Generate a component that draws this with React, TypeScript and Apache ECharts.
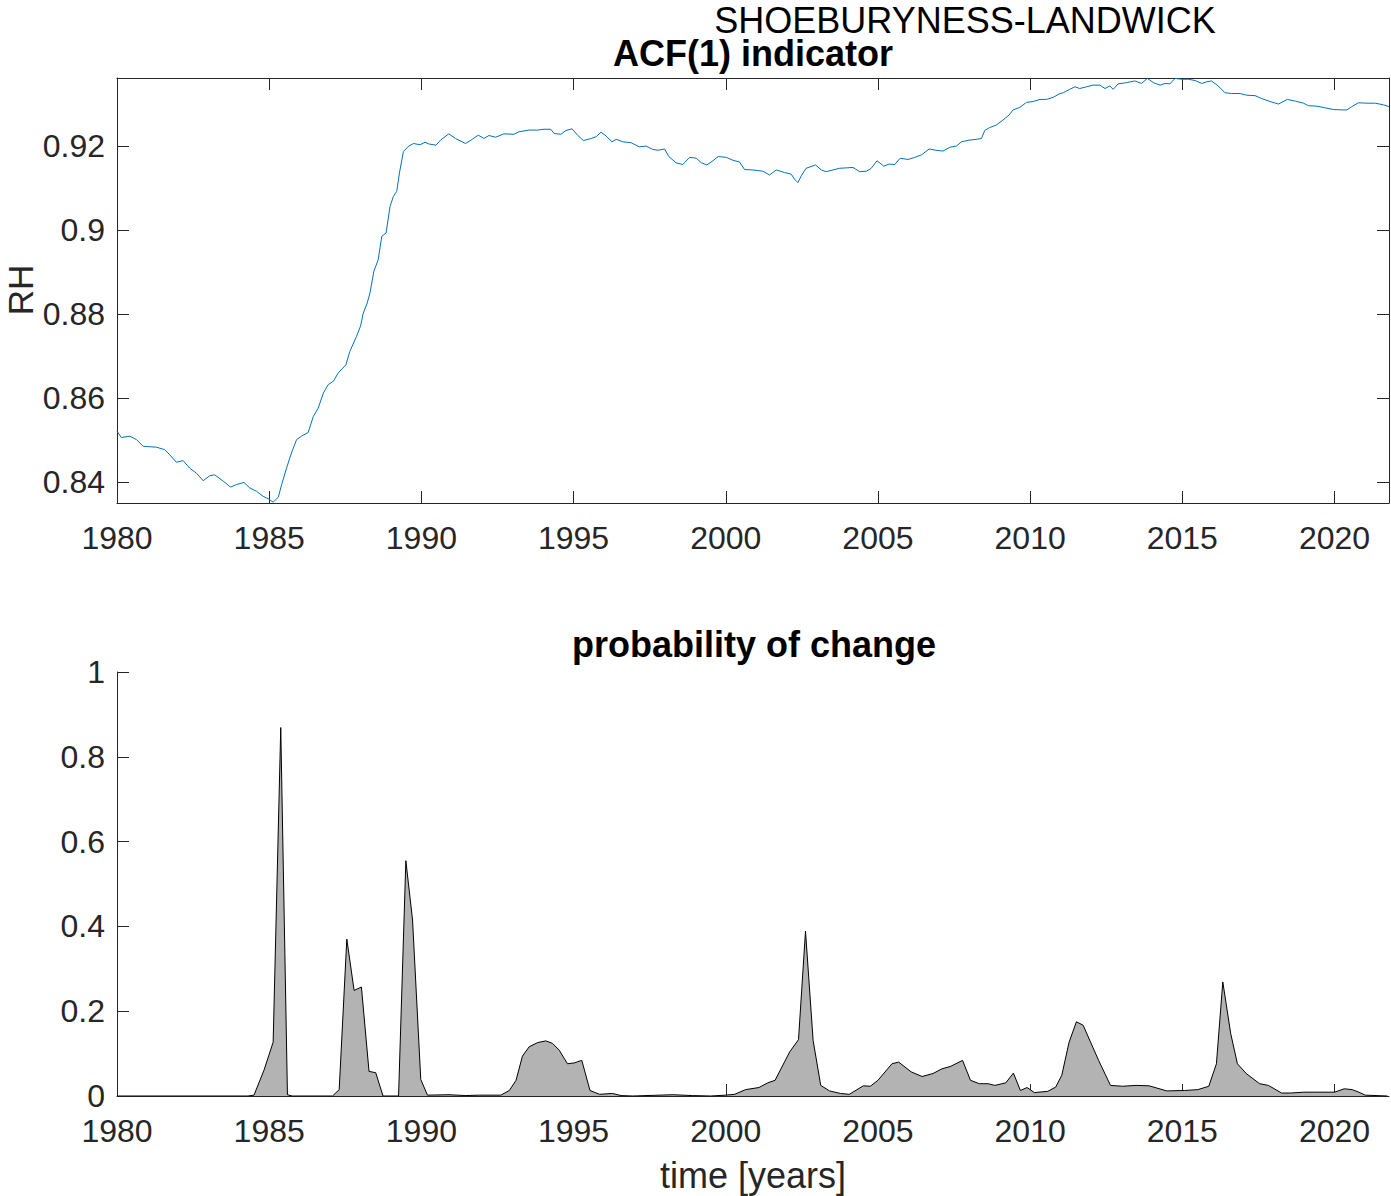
import React, { useEffect, useRef } from "react";
import * as echarts from "echarts";

// ---- ACF(1) indicator (top panel) ----
const acfYears = [
  1980.0, 1980.14, 1980.42, 1980.64, 1980.86, 1981.29, 1981.57, 1981.73, 1981.95, 1982.17,
  1982.39, 1982.61, 1982.83, 1983.05, 1983.21, 1983.49, 1983.73, 1983.93, 1984.17, 1984.36,
  1984.58, 1984.8, 1984.97, 1985.13, 1985.3, 1985.41, 1985.57, 1985.73, 1985.9, 1986.06,
  1986.28, 1986.45, 1986.61, 1986.78, 1986.94, 1987.11, 1987.27, 1987.52, 1987.65, 1987.87,
  1988.0, 1988.09, 1988.22, 1988.31, 1988.44, 1988.58, 1988.7, 1988.84, 1988.97, 1989.08,
  1989.19, 1989.28, 1989.41, 1989.57, 1989.74, 1989.96, 1990.12, 1990.24, 1990.48, 1990.63,
  1990.9, 1991.12, 1991.45, 1991.67, 1991.87, 1992.05, 1992.22, 1992.44, 1992.71, 1993.04,
  1993.21, 1993.54, 1993.81, 1994.03, 1994.25, 1994.36, 1994.58, 1994.75, 1994.95, 1995.13,
  1995.32, 1995.58, 1995.74, 1995.9, 1996.07, 1996.26, 1996.4, 1996.62, 1996.89, 1997.16,
  1997.38, 1997.6, 1997.77, 1997.99, 1998.13, 1998.37, 1998.59, 1998.81, 1999.03, 1999.2,
  1999.38, 1999.58, 1999.75, 2000.02, 2000.24, 2000.45, 2000.62, 2000.89, 2001.22, 2001.44,
  2001.66, 2001.93, 2002.15, 2002.26, 2002.37, 2002.48, 2002.64, 2002.95, 2003.14, 2003.3,
  2003.52, 2003.74, 2003.96, 2004.18, 2004.4, 2004.62, 2004.78, 2004.97, 2005.19, 2005.36,
  2005.55, 2005.73, 2005.99, 2006.21, 2006.43, 2006.68, 2006.9, 2007.14, 2007.36, 2007.58,
  2007.74, 2007.99, 2008.23, 2008.4, 2008.51, 2008.67, 2008.89, 2009.11, 2009.31, 2009.44,
  2009.66, 2009.88, 2010.1, 2010.32, 2010.54, 2010.76, 2010.95, 2011.09, 2011.3, 2011.47,
  2011.63, 2011.85, 2012.07, 2012.29, 2012.46, 2012.62, 2012.73, 2012.89, 2013.17, 2013.44,
  2013.66, 2013.85, 2014.05, 2014.27, 2014.43, 2014.59, 2014.76, 2014.98, 2015.2, 2015.42,
  2015.64, 2015.8, 2015.96, 2016.18, 2016.4, 2016.62, 2016.9, 2017.12, 2017.39, 2017.61,
  2017.88, 2018.16, 2018.45, 2018.71, 2018.98, 2019.14, 2019.42, 2019.75, 2019.97, 2020.24,
  2020.41, 2020.57, 2020.79, 2021.06, 2021.34, 2021.61, 2021.79,
];
const acfValues = [
  0.8521, 0.8506, 0.8509, 0.8501, 0.8485, 0.8483, 0.8477, 0.8465, 0.8447, 0.8451,
  0.8433, 0.8421, 0.8403, 0.8415, 0.8417, 0.8402, 0.8388, 0.8394, 0.8399, 0.8386,
  0.8378, 0.8366, 0.836, 0.8352, 0.8364, 0.8394, 0.8433, 0.8469, 0.8501, 0.8509,
  0.8518, 0.8556, 0.8576, 0.8612, 0.8632, 0.864, 0.866, 0.8679, 0.8711, 0.8747,
  0.8771, 0.8802, 0.8826, 0.885, 0.8902, 0.8929, 0.8985, 0.8993, 0.9056, 0.908,
  0.9092, 0.9136, 0.9187, 0.9199, 0.9206, 0.9203, 0.9209, 0.9205, 0.9202, 0.9214,
  0.9229, 0.9218, 0.9206, 0.9216, 0.9226, 0.9218, 0.9225, 0.9221, 0.9229, 0.9228,
  0.9234, 0.9238, 0.9238, 0.924, 0.924, 0.923, 0.9228, 0.9237, 0.9241, 0.9226,
  0.9213, 0.9218, 0.9222, 0.9233, 0.9224, 0.921, 0.9216, 0.921, 0.9208, 0.9198,
  0.92, 0.9192, 0.919, 0.9193, 0.9175, 0.916, 0.9156, 0.9173, 0.9171, 0.916,
  0.9155, 0.9165, 0.9175, 0.9173, 0.9166, 0.9162, 0.9144, 0.9143, 0.914, 0.9131,
  0.9143, 0.9137, 0.9133, 0.9121, 0.9113, 0.9129, 0.9147, 0.9155, 0.9143, 0.9139,
  0.9143, 0.9147, 0.9148, 0.9149, 0.9139, 0.914, 0.9147, 0.9165, 0.9152, 0.9157,
  0.9156, 0.9171, 0.9168, 0.9173, 0.9179, 0.9193, 0.919, 0.9188, 0.9197, 0.92,
  0.921, 0.9214, 0.9216, 0.9218, 0.9237, 0.9244, 0.925, 0.9262, 0.9274, 0.9286,
  0.9292, 0.9304, 0.9306, 0.9311, 0.9311, 0.9316, 0.9324, 0.9327, 0.9335, 0.9341,
  0.9337, 0.9341, 0.9345, 0.9345, 0.9337, 0.9343, 0.9335, 0.9348, 0.9351, 0.9355,
  0.9349, 0.9361, 0.9351, 0.9345, 0.9349, 0.9348, 0.9361, 0.9359, 0.9359, 0.9356,
  0.9349, 0.9353, 0.9355, 0.9343, 0.9327, 0.9325, 0.9325, 0.9321, 0.932, 0.9313,
  0.9306, 0.93, 0.9311, 0.9307, 0.9302, 0.9296, 0.9295, 0.929, 0.9287, 0.9286,
  0.9286, 0.9294, 0.9303, 0.9302, 0.9302, 0.9298, 0.9294,
];

// ---- probability of change (bottom panel) ----
const probYears = [
  1980.0, 1984.3, 1984.5, 1984.83, 1985.13, 1985.38, 1985.6, 1985.76, 1987.08, 1987.3,
  1987.55, 1987.79, 1988.03, 1988.28, 1988.5, 1988.74, 1989.25, 1989.49, 1989.71, 1989.98,
  1990.2, 1990.91, 1991.46, 1991.9, 1992.61, 1992.89, 1993.11, 1993.32, 1993.54, 1993.82,
  1994.09, 1994.31, 1994.53, 1994.8, 1995.02, 1995.27, 1995.54, 1995.85, 1996.28, 1996.56,
  1996.94, 1998.26, 1998.91, 1999.5, 2000.0, 2000.29, 2000.65, 2001.09, 2001.38, 2001.62,
  2002.1, 2002.39, 2002.62, 2002.87, 2003.12, 2003.41, 2003.77, 2004.06, 2004.52, 2004.75,
  2005.0, 2005.46, 2005.68, 2006.09, 2006.45, 2006.81, 2007.1, 2007.39, 2007.78, 2008.04,
  2008.33, 2008.62, 2008.84, 2009.2, 2009.45, 2009.68, 2009.9, 2010.14, 2010.58, 2010.84,
  2011.04, 2011.28, 2011.52, 2011.74, 2012.25, 2012.64, 2013.04, 2013.48, 2013.91, 2014.49,
  2015.07, 2015.51, 2015.87, 2016.12, 2016.33, 2016.59, 2016.81, 2017.1, 2017.54, 2017.83,
  2018.26, 2018.55, 2018.99, 2019.42, 2020.0, 2020.32, 2020.58, 2020.8, 2021.01, 2021.74,
];
const probValues = [
  0, 0, 0.002, 0.061, 0.127, 0.869, 0.003, 0, 0, 0.015,
  0.37, 0.249, 0.257, 0.058, 0.055, 0, 0, 0.555, 0.415, 0.039,
  0.002, 0.003, 0.001, 0.002, 0.002, 0.013, 0.037, 0.094, 0.116, 0.126,
  0.13, 0.124, 0.108, 0.076, 0.078, 0.084, 0.013, 0.004, 0.006, 0.001,
  0, 0.003, 0.001, 0, 0.002, 0.004, 0.015, 0.02, 0.031, 0.037,
  0.104, 0.133, 0.389, 0.131, 0.025, 0.012, 0.006, 0.004, 0.024, 0.023,
  0.037, 0.076, 0.08, 0.057, 0.046, 0.053, 0.064, 0.07, 0.084, 0.037,
  0.029, 0.029, 0.025, 0.031, 0.054, 0.013, 0.02, 0.008, 0.011, 0.021,
  0.049, 0.127, 0.175, 0.167, 0.084, 0.025, 0.023, 0.025, 0.024, 0.012,
  0.013, 0.015, 0.023, 0.076, 0.269, 0.147, 0.076, 0.053, 0.029, 0.025,
  0.007, 0.007, 0.009, 0.009, 0.009, 0.017, 0.015, 0.009, 0.002, 0,
];

const xTicks = [1980, 1985, 1990, 1995, 2000, 2005, 2010, 2015, 2020];
const acfTicks = [0.84, 0.86, 0.88, 0.9, 0.92];
const probTicks = [0, 0.2, 0.4, 0.6, 0.8, 1];

const suptitle = "SHOEBURYNESS-LANDWICK";
const topTitle = "ACF(1) indicator";
const bottomTitle = "probability of change";
const topYLabel = "RH";
const bottomXLabel = "time [years]";

const FONT = '"Liberation Sans", Arial, Helvetica, sans-serif';
const AXIS_COLOR = "#262626";

export default function App() {
  const ref = useRef<HTMLDivElement>(null);

  useEffect(() => {
    if (!ref.current) return;
    const chart = echarts.init(ref.current, undefined, { renderer: "svg" });

    const axisLine = { show: true, onZero: false, lineStyle: { color: AXIS_COLOR, width: 1 } };
    const tickStyle = { lineStyle: { color: AXIS_COLOR, width: 1 } };

    const xAxisBase = (gridIndex: number, position: string, showLabel: boolean) => ({
      gridIndex,
      type: "value",
      position,
      min: 1980,
      max: 2021.79,
      axisLine,
      axisTick: { show: true, inside: true, length: 12, customValues: xTicks, ...tickStyle },
      axisLabel: {
        show: showLabel,
        customValues: xTicks,
        formatter: (v: number) => String(Math.round(v)),
        fontSize: 32,
        fontFamily: FONT,
        color: AXIS_COLOR,
        margin: 19,
      },
      splitLine: { show: false },
    });

    const option: any = {
      animation: false,
      backgroundColor: "#ffffff",
      textStyle: { fontFamily: FONT },
      grid: [
        { left: 117, top: 78, width: 1272, height: 425 },
        { left: 117, top: 672, width: 1272, height: 424 },
      ],
      xAxis: [
        xAxisBase(0, "bottom", true),
        xAxisBase(0, "top", false),
        xAxisBase(1, "bottom", true),
      ],
      yAxis: [
        {
          gridIndex: 0,
          type: "value",
          position: "left",
          min: 0.835,
          max: 0.9362,
          axisLine,
          axisTick: { show: true, inside: true, length: 12, customValues: acfTicks, ...tickStyle },
          axisLabel: {
            customValues: acfTicks,
            formatter: (v: number) => String(v),
            fontSize: 32,
            fontFamily: FONT,
            color: AXIS_COLOR,
            margin: 12,
          },
          splitLine: { show: false },
        },
        {
          gridIndex: 0,
          type: "value",
          position: "right",
          min: 0.835,
          max: 0.9362,
          axisLine,
          axisTick: { show: true, inside: true, length: 12, customValues: acfTicks, ...tickStyle },
          axisLabel: { show: false },
          splitLine: { show: false },
        },
        {
          gridIndex: 1,
          type: "value",
          position: "left",
          min: 0,
          max: 1,
          axisLine,
          axisTick: { show: true, inside: true, length: 12, customValues: probTicks, ...tickStyle },
          axisLabel: {
            customValues: probTicks,
            formatter: (v: number) => String(v),
            fontSize: 32,
            fontFamily: FONT,
            color: AXIS_COLOR,
            margin: 12,
          },
          splitLine: { show: false },
        },
      ],
      series: [
        {
          type: "line",
          xAxisIndex: 0,
          yAxisIndex: 0,
          data: acfYears.map((y, i) => [y, acfValues[i]]),
          showSymbol: false,
          symbol: "none",
          lineStyle: { color: "#0072BD", width: 1 },
        },
        {
          type: "line",
          xAxisIndex: 2,
          yAxisIndex: 2,
          data: probYears.map((y, i) => [y, probValues[i]]),
          showSymbol: false,
          symbol: "none",
          lineStyle: { color: "#000000", width: 1 },
          areaStyle: { color: "#b3b3b3", opacity: 1, origin: "start" },
        },
      ],
      graphic: [
        {
          type: "text",
          x: 965,
          y: 20,
          style: {
            text: suptitle,
            fill: "#000000",
            font: `36px ${FONT}`,
            textAlign: "center",
            textVerticalAlign: "middle",
          },
        },
        {
          type: "text",
          x: 753,
          y: 53,
          style: {
            text: topTitle,
            fill: "#000000",
            font: `bold 36px ${FONT}`,
            textAlign: "center",
            textVerticalAlign: "middle",
          },
        },
        {
          type: "text",
          x: 754,
          y: 644,
          style: {
            text: bottomTitle,
            fill: "#000000",
            font: `bold 36px ${FONT}`,
            textAlign: "center",
            textVerticalAlign: "middle",
          },
        },
        {
          type: "text",
          x: 753,
          y: 1175,
          style: {
            text: bottomXLabel,
            fill: AXIS_COLOR,
            font: `36px ${FONT}`,
            textAlign: "center",
            textVerticalAlign: "middle",
          },
        },
        {
          type: "text",
          x: 20,
          y: 290,
          rotation: Math.PI / 2,
          style: {
            text: topYLabel,
            fill: AXIS_COLOR,
            font: `35px ${FONT}`,
            textAlign: "center",
            textVerticalAlign: "middle",
          },
        },
      ],
    };

    chart.setOption(option);
    return () => {
      chart.dispose();
    };
  }, []);

  return (
    <div
      ref={ref}
      style={{ position: "absolute", left: 0, top: 0, width: 1391, height: 1196 }}
    />
  );
}
